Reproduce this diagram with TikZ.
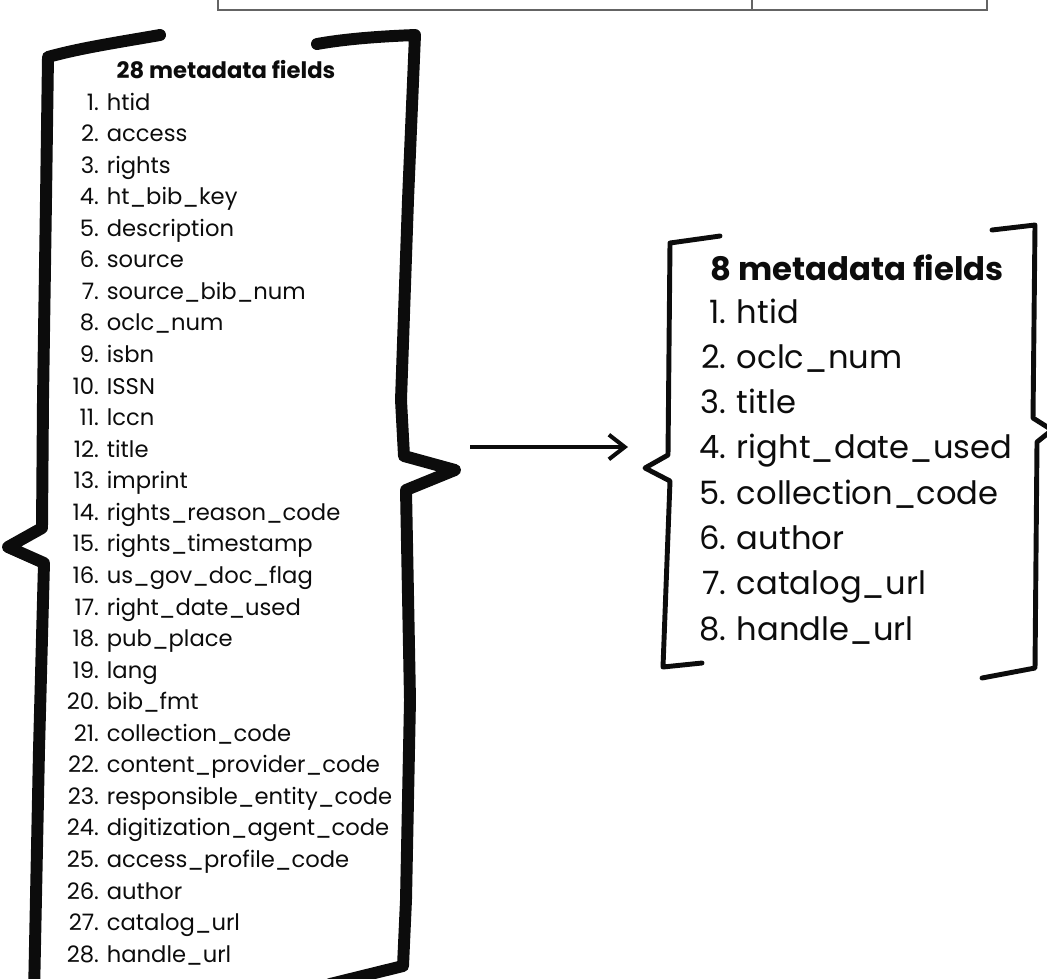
\documentclass[tikz,border=0pt]{standalone}
\usepackage{fontspec}
\setmainfont{Poppins}
\usetikzlibrary{arrows.meta}
\definecolor{tablegray}{RGB}{100,100,100}
\definecolor{inkblack}{RGB}{12,12,12}
\newcommand{\numL}[1]{\makebox[18pt][r]{#1}\hspace{4.5pt}}
\newcommand{\numR}[1]{\makebox[16pt][r]{#1}\hspace{6pt}}
\tikzset{
    fieldL/.style={
        anchor=base west, inner sep=0pt, text=inkblack, font=\fontsize{12.9}{14}\selectfont
    },
    fieldR/.style={
        anchor=base west, inner sep=0pt, text=inkblack, font=\fontsize{18.3}{20}\selectfont
    },
    titleL/.style={
        anchor=base, inner sep=0pt, text=inkblack, font=\fontsize{12.9}{14}\selectfont\bfseries
    },
    titleR/.style={
        anchor=base, inner sep=0pt, text=inkblack, font=\fontsize{18.4}{20}\selectfont\bfseries
    }
}

\begin{document}
\begin{tikzpicture}[
        x=0.02cm, y=-0.02cm, % 1 unit = 1 pixel of the layout
        % --- STYLE ---
        bigbrace/.style={draw=inkblack, line width=6.8pt, line cap=round, line join=round},
        smallbrace/.style={draw=inkblack, line width=2.8pt, line cap=round, line join=round},
        tableline/.style={draw=tablegray, line width=1.2pt},
        reducearrow/.style={draw=inkblack, line width=2.3pt, -{Straight Barb[length=9pt, width=14pt, line width=2.3pt]}}
    ]
        \clip (0,0) rectangle (1047,978);

        % ==========================================
        % TABLE (cut off at the top)
        % ==========================================
        \draw[tableline] (218,-20) -- (218,10) -- (987,10) -- (987,-20);
        \draw[tableline] (752,-20) -- (752,10);

        % ==========================================
        % LEFT: 28 FIELDS
        % ==========================================
        \draw[bigbrace] (160,35) .. controls (120,42) and (80,48) .. (48,57)
            -- (46,200) -- (43,400) -- (42,528) -- (8,547) -- (44,563)
            -- (39,750) -- (34,995);
        \draw[bigbrace] (36,1002) -- (125,991);
        \draw[bigbrace] (317,44) .. controls (350,38) and (390,36) .. (415,35)
            -- (408,200) -- (401,400) -- (404,456) -- (455,470) -- (406,490)
            -- (410,700) -- (406,900) -- (403,966) -- (330,984);

        \node[titleL] (t28) at (226,78) {28 metadata fields};
        \node[fieldL] (l1) at (67,110) {\numL{1.}htid};
        \node[fieldL] (l2) at (67,141.6) {\numL{2.}access};
        \node[fieldL] (l3) at (67,173.1) {\numL{3.}rights};
        \node[fieldL] (l4) at (67,204.7) {\numL{4.}ht\_bib\_key};
        \node[fieldL] (l5) at (67,236.2) {\numL{5.}description};
        \node[fieldL] (l6) at (67,267.8) {\numL{6.}source};
        \node[fieldL] (l7) at (67,299.4) {\numL{7.}source\_bib\_num};
        \node[fieldL] (l8) at (67,330.9) {\numL{8.}oclc\_num};
        \node[fieldL] (l9) at (67,362.5) {\numL{9.}isbn};
        \node[fieldL] (l10) at (67,394.0) {\numL{10.}ISSN};
        \node[fieldL] (l11) at (67,425.6) {\numL{11.}lccn};
        \node[fieldL] (l12) at (67,457.2) {\numL{12.}title};
        \node[fieldL] (l13) at (67,488.7) {\numL{13.}imprint};
        \node[fieldL] (l14) at (67,520.3) {\numL{14.}rights\_reason\_code};
        \node[fieldL] (l15) at (67,551.8) {\numL{15.}rights\_timestamp};
        \node[fieldL] (l16) at (67,583.4) {\numL{16.}us\_gov\_doc\_flag};
        \node[fieldL] (l17) at (67,615.0) {\numL{17.}right\_date\_used};
        \node[fieldL] (l18) at (67,646.5) {\numL{18.}pub\_place};
        \node[fieldL] (l19) at (67,678.1) {\numL{19.}lang};
        \node[fieldL] (l20) at (67,709.6) {\numL{20.}bib\_fmt};
        \node[fieldL] (l21) at (67,741.2) {\numL{21.}collection\_code};
        \node[fieldL] (l22) at (67,772.8) {\numL{22.}content\_provider\_code};
        \node[fieldL] (l23) at (67,804.3) {\numL{23.}responsible\_entity\_code};
        \node[fieldL] (l24) at (67,835.9) {\numL{24.}digitization\_agent\_code};
        \node[fieldL] (l25) at (67,867.4) {\numL{25.}access\_profile\_code};
        \node[fieldL] (l26) at (67,899.0) {\numL{26.}author};
        \node[fieldL] (l27) at (67,930.6) {\numL{27.}catalog\_url};
        \node[fieldL] (l28) at (67,962.1) {\numL{28.}handle\_url};

        % ==========================================
        % ARROW
        % ==========================================
        \coordinate (arrfrom) at (470,447);
        \coordinate (arrto) at (628,447);
        \draw[reducearrow] (arrfrom) -- (arrto);

        % ==========================================
        % RIGHT: 8 FIELDS
        % ==========================================
        \draw[smallbrace] (720,236) -- (670,243) -- (668,455) -- (645,468)
            -- (670,481) -- (663,667) -- (702,663);
        \draw[smallbrace] (992,230) -- (1035,225) -- (1033,418) -- (1052,430)
            -- (1037,442) -- (1035,668) -- (982,678);

        \node[titleR] (t8) at (857,280) {8 metadata fields};
        \node[fieldR] (r1) at (698,323) {\numR{1.}htid};
        \node[fieldR] (r2) at (698,368.3) {\numR{2.}oclc\_num};
        \node[fieldR] (r3) at (698,413.6) {\numR{3.}title};
        \node[fieldR] (r4) at (698,458.9) {\numR{4.}right\_date\_used};
        \node[fieldR] (r5) at (698,504.1) {\numR{5.}collection\_code};
        \node[fieldR] (r6) at (698,549.4) {\numR{6.}author};
        \node[fieldR] (r7) at (698,594.7) {\numR{7.}catalog\_url};
        \node[fieldR] (r8) at (698,640) {\numR{8.}handle\_url};

    \end{tikzpicture}
\end{document}
